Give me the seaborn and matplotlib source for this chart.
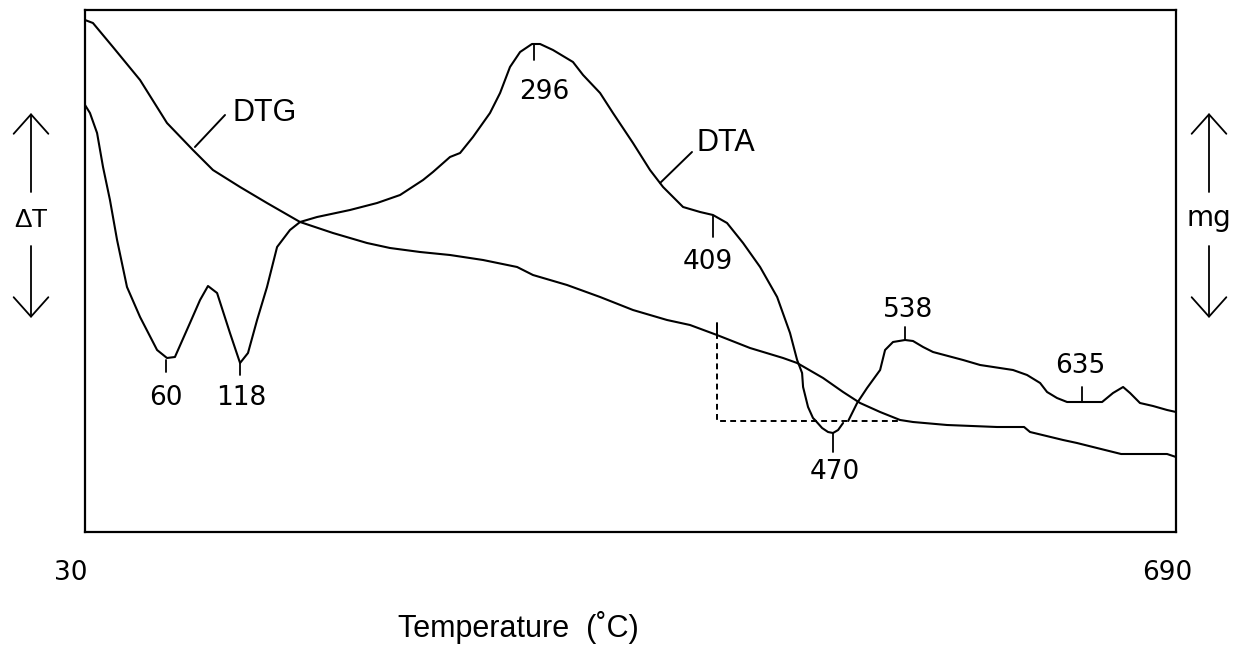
import numpy as np
import pandas as pd
import matplotlib
matplotlib.use("Agg")
import matplotlib.pyplot as plt
import matplotlib.transforms as mtransforms
import seaborn as sns

# ---------------- data (signal in arbitrary units) -------------
dta_temp_a = [30.0, 33.0, 37.3, 40.9, 45.1, 49.4, 55.4, 63.3, 73.6, 79.6, 84.4, 93.5,
              99.6, 104.4, 109.9, 117.7, 123.8, 128.6, 134.1, 140.1, 146.2, 154.0,
              160.1, 170.4, 190.3, 206.7, 220.6, 234.5, 240.5, 250.8, 256.9, 264.7,
              275.0, 281.1, 287.1, 293.2, 300.4, 305.3, 313.1, 325.2, 331.3, 341.6,
              349.4, 361.5, 371.8, 379.7, 391.8, 402.1, 409.9, 418.4, 428.1, 438.4,
              448.7, 456.5, 460.8, 463.8, 464.4, 467.4, 470.4, 471.6, 475.9, 479.5,
              482.5, 485.6, 488.6]
dta_val_a = [427, 419, 399, 365, 332, 292, 245, 215, 182, 174, 175, 209,
             232, 246, 239, 199, 169, 179, 212, 245, 285, 302,
             310, 315, 322, 329, 337, 352, 360, 375, 379, 395,
             419, 439, 465, 480, 488, 488, 482, 470, 457, 439,
             419, 389, 362, 345, 325, 320, 317, 309, 289, 265,
             235, 199, 172, 159, 145, 125, 114, 112, 104, 100,
             99, 102, 109]
dta_temp_b = [491.7, 497.1, 503.1, 511.0, 514.0, 518.8, 526.1, 530.9, 537.0, 543.0,
              561.2, 571.5, 591.4, 599.9, 607.8, 612.0, 618.0, 624.1, 645.3, 651.9,
              658.0, 662.2, 668.2, 676.1, 684.6, 690.0]
dta_val_b = [111, 129, 144, 162, 182, 190, 192, 191, 185, 180,
             172, 167, 162, 157, 149, 140, 134, 130, 130, 139,
             145, 139, 129, 126, 122, 120]

dtg_temp = [30.0, 34.8, 46.9, 63.3, 79.6, 95.3, 107.4, 123.8, 140.1, 160.1, 180.0,
            200.6, 214.5, 232.7, 250.8, 270.8, 291.4, 301.0, 321.6, 341.6, 361.5,
            382.1, 396.0, 412.3, 432.3, 452.3, 460.8, 476.5, 488.6, 498.9, 511.0,
            523.1, 530.9, 551.5, 581.7, 598.1, 601.7, 621.7, 630.1, 642.2, 656.8,
            684.6, 690.0]
dtg_val = [512, 509, 485, 452, 409, 382, 362, 345, 329, 310, 299,
           289, 284, 280, 277, 272, 265, 257, 247, 235, 222,
           212, 207, 197, 184, 174, 169, 154, 140, 129, 120,
           112, 110, 107, 105, 105, 100, 92, 89, 84, 78,
           78, 75]

# dashed construction line (onset of the 470 event)
dash_temp = [412.3, 412.3, 523.1]
dash_val = [209, 111, 111]

# peak annotations: label, temperature of tick, tick top, tick bottom, label T, label y
peak_labels = ["60", "118", "296", "409", "470", "538", "635"]
peak_tick_T = [79.0, 123.8, 301.6, 409.9, 482.5, 526.1, 633.2]
peak_tick_v0 = [172, 169, 488, 316, 99, 205, 145]
peak_tick_v1 = [160, 157, 472, 295, 80, 192, 131]
peak_label_T = [79.0, 124.5, 307.6, 406.9, 483.7, 527.9, 632.0]
peak_label_v = [134, 134, 440, 270, 60, 222, 166]

x_ticks = [30, 690]
x_tick_labels = ["30", "690"]

# ---------------- figure ----------------
sns.set_theme(style="white")
plt.rcParams["font.family"] = ["DejaVu Sans"]
plt.rcParams["text.color"] = "black"
plt.rcParams["xtick.color"] = "black"
plt.rcParams["axes.labelcolor"] = "black"

fig = plt.figure(figsize=(12.44, 6.57), dpi=100)
ax = fig.add_axes([85 / 1244, 1 - 532 / 657, (1176 - 85) / 1244, (532 - 10) / 657])

df = pd.concat([
    pd.DataFrame({"T": dta_temp_a, "v": dta_val_a, "curve": "DTA", "seg": "DTA-a"}),
    pd.DataFrame({"T": dta_temp_b, "v": dta_val_b, "curve": "DTA", "seg": "DTA-b"}),
    pd.DataFrame({"T": dtg_temp, "v": dtg_val, "curve": "DTG", "seg": "DTG"}),
], ignore_index=True)

sns.lineplot(data=df, x="T", y="v", hue="curve", units="seg", estimator=None,
             palette={"DTA": "black", "DTG": "black"}, linewidth=1.5,
             sort=False, legend=False, ax=ax)

ax.plot(dash_temp, dash_val, color="black", lw=1.4, linestyle=(0, (3, 2.2)))
ax.plot([dash_temp[0], dash_temp[0]], [dash_val[0], dash_val[0] - 14], color="black", lw=1.4)

for lab, tt, v0, v1, lt, lv in zip(peak_labels, peak_tick_T, peak_tick_v0, peak_tick_v1,
                                  peak_label_T, peak_label_v):
    ax.plot([tt, tt], [v0, v1], color="black", lw=1.3)
    ax.text(lt, lv, lab, ha="center", va="center", fontsize=19, color="black",
            family="DejaVu Sans")

# curve names with leader lines
ax.plot([96.5, 114.7], [385, 417], color="black", lw=1.4)
ax.text(119.5, 419, "DTG", ha="left", va="center", fontsize=22,
        family="Liberation Sans", color="black")
ax.plot([377.9, 397.2], [349, 380], color="black", lw=1.4)
ax.text(400.2, 389, "DTA", ha="left", va="center", fontsize=22,
        family="Liberation Sans", color="black")

ax.set_xlim(30, 690)
ax.set_ylim(0, 522)
ax.set_yticks([])
ax.set_xticks(x_ticks)
ax.set_xticklabels(x_tick_labels, fontsize=19, family="DejaVu Sans", color="black")
ax.tick_params(axis="x", length=0, pad=20)
# the hand-drawn labels sit a little left of the frame corners
for lbl, dx in zip(ax.get_xticklabels(), [-14, -9]):
    lbl.set_transform(lbl.get_transform() +
                      mtransforms.ScaledTranslation(dx / 100, 0, fig.dpi_scale_trans))
ax.set_xlabel("")
ax.set_ylabel("")
for sp in ax.spines.values():
    sp.set_color("black")
    sp.set_linewidth(1.6)

fig.text(518 / 1244, 1 - 627 / 657, "Temperature  (˚C)", ha="center", va="center",
         fontsize=22, family="Liberation Sans", color="black")

# side arrows and labels
def fxy(px, py):
    return (px / 1244, 1 - py / 657)

arrow_kw = dict(arrowstyle="->,head_length=1.4,head_width=1.25", lw=1.3, color="black",
                mutation_scale=10, shrinkA=0, shrinkB=0)
for px in [31, 1209]:
    ax.annotate("", xy=fxy(px, 113), xytext=fxy(px, 192), xycoords="figure fraction",
                textcoords="figure fraction", arrowprops=arrow_kw)
    ax.annotate("", xy=fxy(px, 318), xytext=fxy(px, 246), xycoords="figure fraction",
                textcoords="figure fraction", arrowprops=arrow_kw)

fig.text(31 / 1244, 1 - 220 / 657, "ΔT", ha="center", va="center", fontsize=19,
         family="Liberation Sans", color="black")
fig.text(1209 / 1244, 1 - 218 / 657, "mg", ha="center", va="center", fontsize=20,
         family="DejaVu Sans", color="black")

fig.savefig("out.png", dpi=100, facecolor="white")
